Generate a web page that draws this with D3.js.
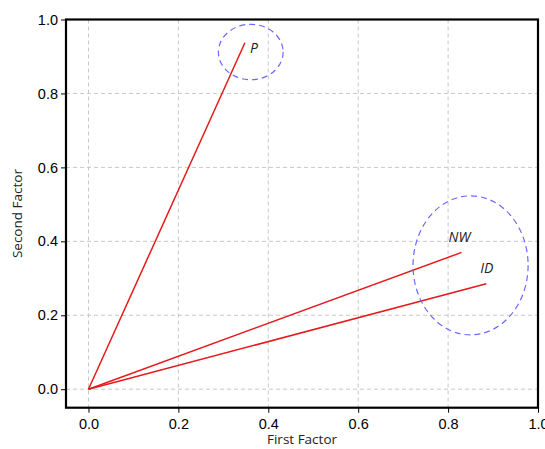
<!DOCTYPE html>
<html><head><meta charset="utf-8">
<script src="https://cdn.jsdelivr.net/npm/d3@7"></script>
<style>body{margin:0;background:#fff;} svg{display:block;font-family:"Open Sans","Noto Sans",sans-serif;}</style>
</head><body>
<svg id="c" width="545" height="449"></svg>
<script>
const vars = ["P", "NW", "ID"];
const firstFactor = [0.348, 0.830, 0.885];
const secondFactor = [0.937, 0.370, 0.285];
const labelOffsets = [[5, 10], [-13, -10], [-6, -11]];
const ellipses = [
  {cx: 0.361, cy: 0.912, rx: 0.072, ry: 0.075},
  {cx: 0.850, cy: 0.335, rx: 0.128, ry: 0.188}
];
const ticks = [0, 0.2, 0.4, 0.6, 0.8, 1.0];

const svg = d3.select("#c");
const L = 66, R = 538, T = 19.5, B = 407.7;
const x = d3.scaleLinear().domain([-0.05, 1.0]).range([L, R]);
const y = d3.scaleLinear().domain([-0.05, 1.0]).range([B, T]);

// grid
const g = svg.append("g");
ticks.filter(t => t < 1).forEach(t => {
  g.append("line").attr("x1", x(t)).attr("x2", x(t)).attr("y1", T).attr("y2", B)
    .attr("stroke", "#c8c8c8").attr("stroke-dasharray", "4,3").attr("stroke-width", 1);
  g.append("line").attr("x1", L).attr("x2", R).attr("y1", y(t)).attr("y2", y(t))
    .attr("stroke", "#c8c8c8").attr("stroke-dasharray", "4,3").attr("stroke-width", 1);
});

// axes
const xAxis = d3.axisBottom(x).tickValues(ticks).tickFormat(d3.format(".1f")).tickSize(5).tickSizeOuter(0);
const yAxis = d3.axisLeft(y).tickValues(ticks).tickFormat(d3.format(".1f")).tickSize(5).tickSizeOuter(0);
const gx = svg.append("g").attr("transform", `translate(0,${B})`).call(xAxis);
const gy = svg.append("g").attr("transform", `translate(${L},0)`).call(yAxis);
[gx, gy].forEach(a => {
  a.select(".domain").remove();
  a.selectAll(".tick line").attr("stroke", "#000").attr("stroke-width", 1);
  a.selectAll(".tick text").attr("fill", "#000").style("font-size", "14.5px");
});
gx.selectAll(".tick text").attr("dy", "0.95em");
gy.selectAll(".tick text").attr("x", -8);

// frame
svg.append("rect").attr("x", L).attr("y", T).attr("width", R - L).attr("height", B - T)
  .attr("fill", "none").attr("stroke", "#000").attr("stroke-width", 2.2);

// vectors
vars.forEach((v, i) => {
  svg.append("line").attr("x1", x(0)).attr("y1", y(0))
    .attr("x2", x(firstFactor[i])).attr("y2", y(secondFactor[i]))
    .attr("stroke", "#e41a1c").attr("stroke-width", 1.5);
  svg.append("text").attr("x", x(firstFactor[i]) + labelOffsets[i][0])
    .attr("y", y(secondFactor[i]) + labelOffsets[i][1])
    .attr("font-style", "italic").attr("font-size", "14px").attr("fill", "#222").text(v);
});

// ellipses
ellipses.forEach(e => {
  svg.append("ellipse").attr("cx", x(e.cx)).attr("cy", y(e.cy))
    .attr("rx", x(e.cx + e.rx) - x(e.cx)).attr("ry", y(e.cy) - y(e.cy + e.ry))
    .attr("fill", "none").attr("stroke", "#6a6aff").attr("stroke-width", 1.2)
    .attr("stroke-dasharray", "6,4");
});

// titles
svg.append("text").attr("x", (L + R) / 2).attr("y", 444).attr("text-anchor", "middle")
  .attr("font-size", "13.5px").attr("fill", "#222").text("First Factor");
svg.append("text").attr("transform", `translate(22,${(T + B) / 2}) rotate(-90)`)
  .attr("text-anchor", "middle").attr("font-size", "13.5px").attr("fill", "#222").text("Second Factor");
</script>
</body></html>
